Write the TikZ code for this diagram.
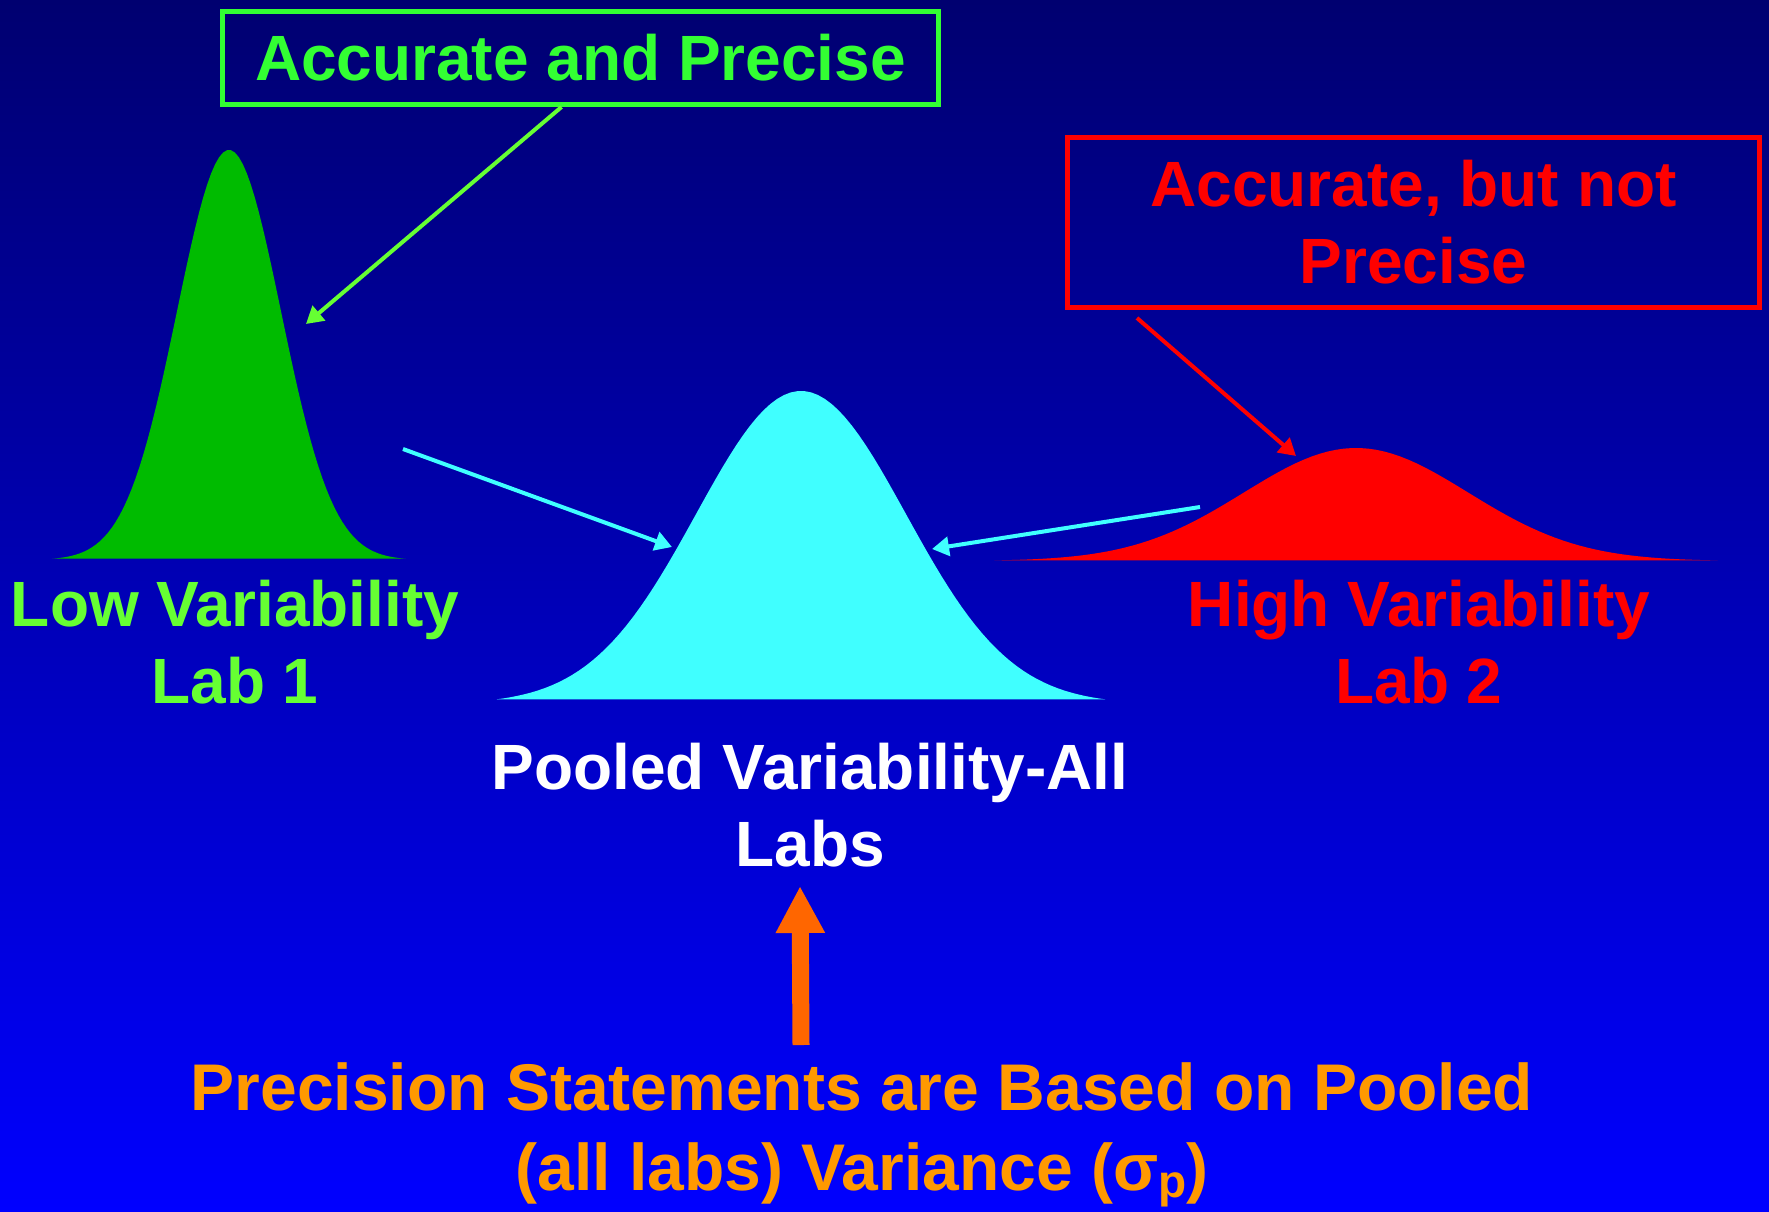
\documentclass[tikz,border=0pt]{standalone}
\usepackage{fontspec}
\setmainfont{Liberation Sans}
\usepackage{xcolor}
\usetikzlibrary{arrows.meta,positioning}
\definecolor{navytop}{RGB}{0,0,112}
\definecolor{bluebottom}{RGB}{0,0,255}
\definecolor{labgreen}{RGB}{0,187,0}
\definecolor{lightgreen}{RGB}{102,255,51}
\definecolor{boxgreen}{RGB}{51,255,51}
\definecolor{poolcyan}{RGB}{64,255,255}
\definecolor{labred}{RGB}{255,0,0}
\definecolor{textorange}{RGB}{255,153,0}
\definecolor{arroworange}{RGB}{255,102,0}

\tikzset{
  bigtext/.style={font=\fontsize{64}{77}\selectfont\bfseries, align=center, inner sep=0pt},
  notebox/.style={draw, line width=5pt, bigtext},
  thinarrow/.style={line width=4pt, -{Triangle[length=17pt,width=19pt]}},
}

\begin{document}
\begin{tikzpicture}[x=1pt,y=-1pt]
%background
\useasboundingbox (0,0) rectangle (1769,1211);
\shade[top color=navytop, bottom color=bluebottom] (0,0) rectangle (1769,1211);

%distributions
\fill[labgreen] plot[domain=-3.4:3.4, samples=90] ({229+52*\x},{560-410*exp(-0.5*\x*\x)}) -- cycle;
\fill[poolcyan] plot[domain=-2.9:2.9, samples=90] ({801+105*\x},{704-313*exp(-0.5*\x*\x)}) -- cycle;
\fill[labred] plot[domain=-3.23:3.23, samples=90] ({1356+112*\x},{561-113*exp(-0.5*\x*\x)}) -- cycle;

%boxes
\node[notebox, color=boxgreen, minimum width=716pt, minimum height=93pt] (goodbox) at (580.5,58) {Accurate and Precise};
\node[notebox, color=labred, minimum width=692pt, minimum height=170pt] (badbox) at (1413.5,222.5) {Accurate, but not\\Precise};

%labels (base = last line)
\node[bigtext, text=lightgreen, anchor=base] (lowlbl) at (235,703) {Low Variability\\Lab 1};
\node[bigtext, text=labred, anchor=base] (highlbl) at (1419,703) {High Variability\\Lab 2};
\node[bigtext, text=white, anchor=base] (poollbl) at (810,866) {Pooled Variability-All\\Labs};
\node[bigtext, font=\fontsize{66}{80}\selectfont\bfseries, text=textorange, anchor=base] (precisionlbl) at (862,1190)
  {Precision Statements are Based on Pooled\\(all labs) Variance (σ{\fontsize{46}{46}\selectfont\raisebox{-7pt}{p}})};

%arrow ends
\coordinate (lowside) at (306,324);
\coordinate (highside) at (1296,456);
\coordinate (fromlow) at (403,449);
\coordinate (poolleft) at (672,547);
\coordinate (fromhigh) at (1200,507);
\coordinate (poolright) at (932,549);
\coordinate (sigmafoot) at (801,1045);
\coordinate (sigmatip) at (800,886);

%arrows
\draw[thinarrow, lightgreen] ([xshift=-19pt]goodbox.south) -- (lowside);
\draw[thinarrow, labred] ([xshift=72pt,yshift=-8pt]badbox.south west) -- (highside);
\draw[thinarrow, poolcyan] (fromlow) -- (poolleft);
\draw[thinarrow, poolcyan] (fromhigh) -- (poolright);
\draw[line width=17pt, arroworange, -{Triangle[length=47pt,width=46pt]}] (sigmafoot) -- (sigmatip);
\end{tikzpicture}
\end{document}
